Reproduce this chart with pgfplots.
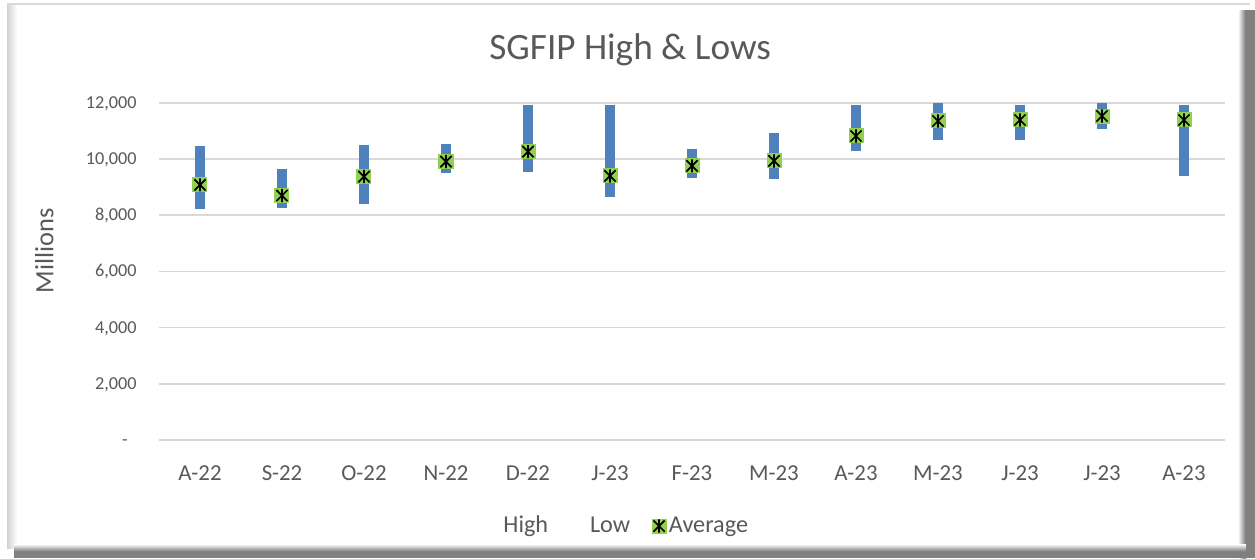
\documentclass[border=0pt]{standalone}
\usepackage{pgfplots}
\pgfplotsset{compat=1.18}
\usepackage{pgfplotstable}
\usepackage{fontspec}
\setmainfont{Carlito}
\definecolor{barblue}{RGB}{79,129,189}
\definecolor{avggreen}{RGB}{146,208,80}
\definecolor{txtgray}{RGB}{89,89,89}
\definecolor{gridgray}{RGB}{217,217,217}

\pgfdeclareplotmark{sqast}{%
  \pgfpathrectangle{\pgfqpoint{-3.75pt}{-3.75pt}}{\pgfqpoint{7.5pt}{7.5pt}}%
  \pgfsetfillcolor{avggreen}\pgfusepathqfill
  \pgfsetstrokecolor{black}\pgfsetlinewidth{0.85pt}%
  \pgfpathmoveto{\pgfqpoint{0pt}{-3.3pt}}\pgfpathlineto{\pgfqpoint{0pt}{3.3pt}}%
  \pgfpathmoveto{\pgfqpoint{-2.8pt}{-2.8pt}}\pgfpathlineto{\pgfqpoint{2.8pt}{2.8pt}}%
  \pgfpathmoveto{\pgfqpoint{-2.8pt}{2.8pt}}\pgfpathlineto{\pgfqpoint{2.8pt}{-2.8pt}}%
  \pgfusepathqstroke
}

\pgfplotstableread{
x low high avg
0 8213 10462 9077
1 8270 9633 8697
2 8413 10497 9372
3 9492 10533 9905
4 9550 11918 10260
5 8650 11918 9396
6 9314 10345 9752
7 9300 10934 9929
8 10274 11930 10817
9 10686 11990 11350
10 10686 11918 11385
11 11055 12000 11527
12 9407 11930 11385
}\datatable

\begin{document}
\begin{tikzpicture}
\useasboundingbox (0pt,0pt) rectangle (627.5pt,-279pt);
% frame
\fill[white] (0pt,0pt) rectangle (627.5pt,-279pt);
\draw[line width=1pt, black!15] (3.5pt,-1.75pt) -- (625pt,-1.75pt);
\shade[left color=black!18, right color=white] (3.5pt,-2.5pt) rectangle (8.5pt,-274pt);
\shade[left color=white, right color=black!55] (619pt,-5pt) rectangle (623pt,-279pt);
\fill[black!50] (623pt,-5pt) rectangle (627.5pt,-279pt);
\shade[top color=white, bottom color=black!55] (7pt,-272pt) rectangle (623pt,-276pt);
\fill[black!50] (7pt,-276pt) rectangle (627.5pt,-279pt);
\begin{axis}[
  at={(79.5pt,-220pt)}, anchor=south west,
  scale only axis, width=533pt, height=168.65pt,
  xmin=-0.5, xmax=12.5, ymin=0, ymax=12000,
  clip=false, scaled y ticks=false,
  axis line style={draw=none},
  major tick length=0pt,
  ymajorgrids, grid style={gridgray, line width=0.8pt},
  xtick={0,...,12},
  xticklabels={A-22,S-22,O-22,N-22,D-22,J-23,F-23,M-23,A-23,M-23,J-23,J-23,A-23},
  ytick={0,2000,4000,6000,8000,10000,12000},
  yticklabels={{-\hspace*{4.5pt}},{2,000},{4,000},{6,000},{8,000},{10,000},{12,000}},
  xticklabel style={font=\fontsize{11.4}{13}\selectfont, text=txtgray, anchor=base, yshift=-20pt, inner sep=0pt},
  yticklabel style={font=\fontsize{9.1}{11}\selectfont, text=txtgray, anchor=base east, yshift=-2.8pt, xshift=-11pt, inner sep=0pt},
  title={SGFIP High \& Lows},
  title style={font=\fontsize{18.6}{22}\selectfont, text=txtgray, at={(axis description cs:0.442,1)}, anchor=base, yshift=15.85pt, inner sep=0pt},
  ylabel={Millions},
  every axis y label/.style={at={(axis description cs:-0.0991,0.561)}, anchor=base, rotate=90, font=\fontsize{13.2}{15}\selectfont, text=txtgray, inner sep=0pt},
  legend columns=-1,
  legend style={at={(axis description cs:0.298,-0.255)}, anchor=west, draw=none, fill=none,
    font=\fontsize{12.1}{14}\selectfont, text=txtgray,
    /tikz/every even column/.append style={column sep=9.5pt},
    nodes={inner sep=1.2pt}},
]
\addplot[forget plot, draw=none, mark=none,
  error bars/.cd, y dir=plus, y explicit, error mark=none,
  error bar style={draw=barblue, line width=4.6pt, line cap=butt}]
  table[x=x, y=low, y error expr=\thisrow{high}-\thisrow{low}] {\datatable};
\addlegendimage{legend image code/.code={\path[draw=none,fill=none] (-4.5pt,-3.75pt) rectangle (4.5pt,3.75pt);}}
\addlegendentry{High}
\addlegendimage{legend image code/.code={\path[draw=none,fill=none] (-4.5pt,-3.75pt) rectangle (4.5pt,3.75pt);}}
\addlegendentry{Low}
\addplot[only marks, mark=sqast, legend image code/.code={\pgfuseplotmark{sqast}}]
  table[x=x, y=avg] {\datatable};
\addlegendentry{Average}
\end{axis}
\end{tikzpicture}
\end{document}
